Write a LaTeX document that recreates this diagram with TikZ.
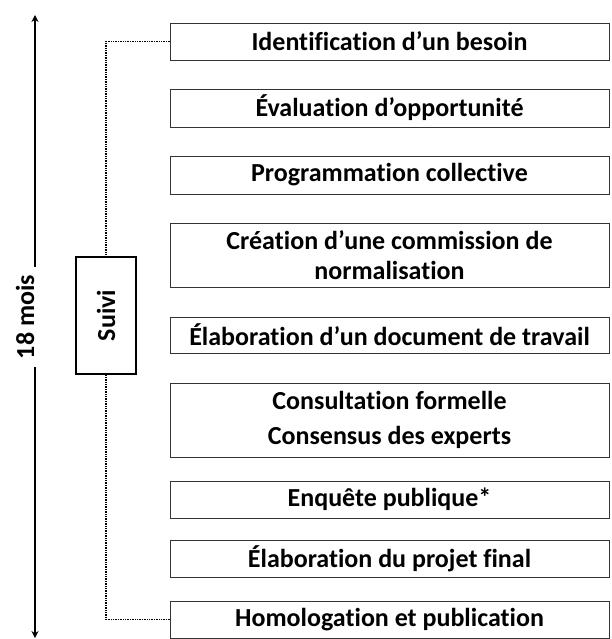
\documentclass[tikz,border=0pt]{standalone}
\usepackage{fontspec}
\setmainfont{Carlito}[Ligatures=NoCommon]
\usetikzlibrary{arrows.meta}
\tikzset{
	etape/.style={draw=black!80,line width=0.9pt,minimum width=439pt,align=center,inner sep=0pt,font=\bfseries\fontsize{26}{30}\selectfont},
	suivibox/.style={draw,line width=2.6pt,minimum width=117pt,minimum height=60pt,inner sep=0pt,rotate=90,font=\bfseries\fontsize{26}{30}\selectfont},
	lien/.style={densely dotted,line width=1.4pt},
	duree/.style={line width=2.2pt,-{Stealth[length=7pt,width=7pt]}}
}
\begin{document}
\begin{tikzpicture}[x=1pt,y=-1pt]
			\useasboundingbox (0,0) rectangle (611,639);
			\coordinate (T) at (35,15);
			\coordinate (B) at (35,638);
			% etapes
			\node[etape,minimum height=37pt] (E1) at (389.5,41.5) {Identification d’un besoin};
			\node[etape,minimum height=38pt] (E2) at (389.5,108) {Évaluation d’opportunité};
			\node[etape,minimum height=38pt] (E3) at (389.5,175) {Programmation collective};
			\node[etape,minimum height=64pt] (E4) at (389.5,255) {Création d’une commission de\\normalisation};
			\node[etape,minimum height=36pt] (E5) at (389.5,335) {Élaboration d’un document de travail};
			\node[etape,minimum height=74pt] (E6) at (389.5,420) {Consultation formelle\\[5pt]Consensus des experts};
			\node[etape,minimum height=37pt] (E7) at (389.5,499.5) {Enquête publique*};
			\node[etape,minimum height=37pt] (E8) at (389.5,558.5) {Élaboration du projet final};
			\node[etape,minimum height=37pt] (E9) at (389.5,619.5) {Homologation et publication};
			% suivi
			\node[suivibox] (S) at (106,315.5) {Suivi};
			\draw[lien] (E1.west) -| (S.east);
			\draw[lien] (E9.west) -| (S.west);
			% duree
			\node[rotate=90,inner sep=0pt,minimum width=100pt,font=\bfseries\fontsize{26}{30}\selectfont] (D) at (25,317) {18 mois};
			\draw[duree] (D.east -| T) -- (T);
			\draw[duree] (D.west -| B) -- (B);
		\end{tikzpicture}
\end{document}
